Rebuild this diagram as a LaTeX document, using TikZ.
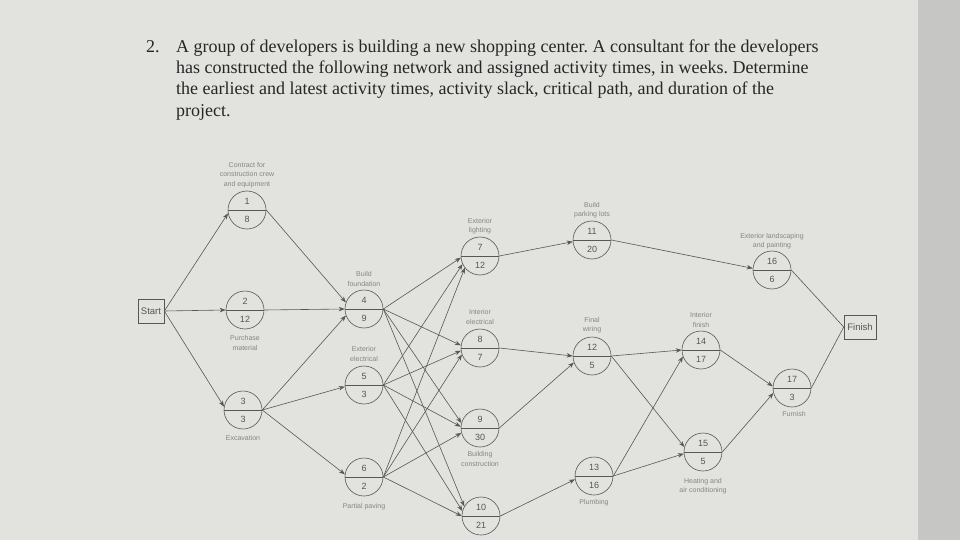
\documentclass[tikz,border=0pt]{standalone}
\usepackage{fontspec}
\setmainfont{Liberation Serif}
\newfontfamily\lsans{Liberation Sans}
\usetikzlibrary{arrows.meta}
\definecolor{paper}{HTML}{E2E3DF}
\definecolor{band}{HTML}{C6C7C4}
\definecolor{ink}{HTML}{575757}
\definecolor{numc}{HTML}{555555}
\definecolor{labc}{HTML}{858585}
\definecolor{headc}{HTML}{262626}
\frenchspacing
\begin{document}
\begin{tikzpicture}[x=1pt,y=-1pt,
  ev/.style={circle,draw=ink,line width=0.6pt,minimum size=38pt,inner sep=0pt,
    font=\lsans\fontsize{9}{18}\selectfont,text=numc,align=center,
    path picture={\draw[ink,line width=0.6pt] (path picture bounding box.west)--(path picture bounding box.east);}},
  lab/.style={font=\lsans\fontsize{7}{9.5}\selectfont,text=labc,align=center,inner sep=0pt},
  hdr/.style={font=\fontsize{18}{21}\selectfont,text=headc,inner sep=0pt,anchor=base west},
  endbox/.style={draw=ink,line width=0.6pt,inner sep=0pt,font=\lsans\fontsize{9.5}{10}\selectfont,text=numc},
  arr/.style={draw=ink,line width=0.6pt,-{Stealth[length=6pt,width=4.5pt]}},
  ln/.style={draw=ink,line width=0.6pt}]
\useasboundingbox (0,0) rectangle (960,540);
\fill[paper] (0,0) rectangle (960,540);
\fill[band] (918,0) rectangle (960,540);

% header
\node[hdr] (h0) at (146,53) {2.};
\node[hdr] (h1) at (176,53) {A group of developers is building a new shopping center. A consultant for the developers};
\node[hdr] (h2) at (176,74) {has constructed the following network and assigned activity times, in weeks. Determine};
\node[hdr] (h3) at (176,95) {the earliest and latest activity times, activity slack, critical path, and duration of the};
\node[hdr] (h4) at (176,117) {project.};

% start / finish
\node[endbox,minimum width=26pt,minimum height=24pt] (start) at (151,311) {Start};
\node[endbox,minimum width=32pt,minimum height=24pt] (finish) at (860,327) {Finish};

% events
\node[ev] (n1) at (247,210) {1\\8};
\node[ev] (n2) at (245,310) {2\\12};
\node[ev] (n3) at (243,410) {3\\3};
\node[ev] (n4) at (364,309) {4\\9};
\node[ev] (n5) at (364,385) {5\\3};
\node[ev] (n6) at (364,477) {6\\2};
\node[ev] (n7) at (480,256) {7\\12};
\node[ev] (n8) at (480,348) {8\\7};
\node[ev] (n9) at (480,428) {9\\30};
\node[ev] (n10) at (481,516) {10\\21};
\node[ev] (n11) at (592,240) {11\\20};
\node[ev] (n12) at (592,356) {12\\5};
\node[ev] (n13) at (594,476) {13\\16};
\node[ev] (n14) at (701,350) {14\\17};
\node[ev] (n15) at (703,452) {15\\5};
\node[ev] (n16) at (772,270) {16\\6};
\node[ev] (n17) at (792,388) {17\\3};

% labels
\node[lab] (l1) at (247,175) {Contract for\\construction crew\\and equipment};
\node[lab] (l2) at (245,343) {Purchase\\material};
\node[lab] (l3) at (243,438) {Excavation};
\node[lab] (l4) at (364,279) {Build\\foundation};
\node[lab] (l5) at (364,354) {Exterior\\electrical};
\node[lab] (l6) at (364,507) {Partial paving};
\node[lab] (l7) at (480,226) {Exterior\\lighting};
\node[lab] (l8) at (480,317) {Interior\\electrical};
\node[lab] (l9) at (480,459) {Building\\construction};
\node[lab] (l11) at (592,210) {Build\\parking lots};
\node[lab] (l12) at (592,325) {Final\\wiring};
\node[lab] (l13) at (594,503) {Plumbing};
\node[lab] (l14) at (701,320) {Interior\\finish};
\node[lab] (l15) at (703,486) {Heating and\\air conditioning};
\node[lab] (l16) at (772,241) {Exterior landscaping\\and painting};
\node[lab] (l17) at (794,414) {Furnish};

% connectors
\draw[arr] (start.east) -- (n1.190);
\draw[arr] (start.east) -- (n2.west);
\draw[arr] (start.east) -- (n3.170);
\draw[arr] (n1.east) -- (n4.160);
\draw[arr] (n2.east) -- (n4.west);
\draw[arr] (n3.east) -- (n4.200);
\draw[arr] (n3.east) -- (n5.185);
\draw[arr] (n3.east) -- (n6.172);
\draw[arr] (n4.east) -- (n7.185);
\draw[arr] (n5.east) -- (n7.205);
\draw[arr] (n6.east) -- (n7.218);
\draw[arr] (n4.east) -- (n8.172);
\draw[arr] (n5.east) -- (n8.188);
\draw[arr] (n6.east) -- (n8.200);
\draw[arr] (n4.east) -- (n9.165);
\draw[arr] (n5.east) -- (n9.176);
\draw[arr] (n6.east) -- (n9.195);
\draw[arr] (n4.east) -- (n10.150);
\draw[arr] (n5.east) -- (n10.165);
\draw[arr] (n6.east) -- (n10.180);
\draw[arr] (n7.east) -- (n11.185);
\draw[arr] (n8.east) -- (n12.180);
\draw[arr] (n9.east) -- (n12.200);
\draw[arr] (n10.east) -- (n13.190);
\draw[arr] (n11.east) -- (n16.175);
\draw[arr] (n12.east) -- (n14.180);
\draw[arr] (n13.east) -- (n14.200);
\draw[arr] (n12.east) -- (n15.165);
\draw[arr] (n13.east) -- (n15.185);
\draw[arr] (n14.east) -- (n17.175);
\draw[arr] (n15.east) -- (n17.195);
\draw[ln] (n16.east) -- (finish.west);
\draw[ln] (n17.east) -- (finish.west);
\end{tikzpicture}
\end{document}
